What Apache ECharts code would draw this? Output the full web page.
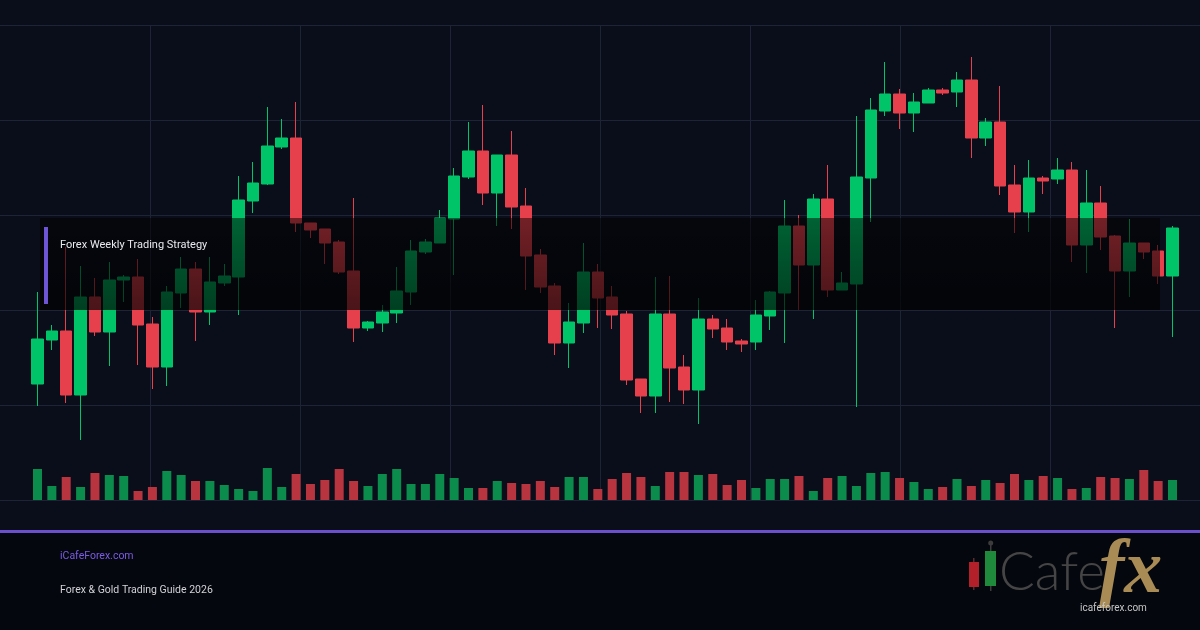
<!DOCTYPE html>
<html>
<head>
<meta charset="utf-8">
<title>Forex Weekly Trading Strategy</title>
<script src="https://cdn.jsdelivr.net/npm/echarts@6.0.0/dist/echarts.min.js"></script>
<style>
  html, body { margin: 0; padding: 0; background: #0a0e1a; }
  #chart { width: 1200px; height: 630px; }
</style>
</head>
<body>
<div id="chart"></div>
<script>
// weekly candles
const weeks = [
  'W01','W02','W03','W04','W05','W06','W07','W08','W09','W10',
  'W11','W12','W13','W14','W15','W16','W17','W18','W19','W20',
  'W21','W22','W23','W24','W25','W26','W27','W28','W29','W30',
  'W31','W32','W33','W34','W35','W36','W37','W38','W39','W40',
  'W41','W42','W43','W44','W45','W46','W47','W48','W49','W50',
  'W51','W52','W53','W54','W55','W56','W57','W58','W59','W60',
  'W61','W62','W63','W64','W65','W66','W67','W68','W69','W70',
  'W71','W72','W73','W74','W75','W76','W77','W78','W79','W80'
]
const opens = [
  2232, 2320, 2338, 2210, 2406, 2336, 2440, 2446, 2352, 2266,
  2414, 2462, 2376, 2434, 2446, 2598, 2632, 2706, 2724, 2554,
  2542, 2516, 2458, 2344, 2354, 2374, 2416, 2496, 2514, 2562,
  2646, 2698, 2614, 2690, 2588, 2490, 2428, 2314, 2354, 2456,
  2406, 2372, 2242, 2208, 2372, 2266, 2220, 2362, 2344, 2318,
  2316, 2368, 2414, 2548, 2470, 2602, 2420, 2432, 2644, 2778,
  2812, 2774, 2794, 2820, 2816, 2840, 2724, 2756, 2630, 2576,
  2644, 2642, 2660, 2510, 2594, 2528, 2458, 2514, 2498, 2448
]
const closes = [
  2322, 2338, 2210, 2406, 2336, 2440, 2446, 2350, 2266, 2416,
  2462, 2376, 2436, 2448, 2600, 2634, 2708, 2724, 2554, 2540,
  2514, 2456, 2344, 2356, 2376, 2418, 2498, 2516, 2564, 2648,
  2698, 2614, 2690, 2586, 2488, 2426, 2314, 2356, 2456, 2404,
  2370, 2240, 2208, 2372, 2264, 2220, 2362, 2342, 2316, 2312,
  2370, 2416, 2548, 2470, 2602, 2420, 2434, 2646, 2780, 2812,
  2774, 2796, 2820, 2814, 2840, 2724, 2756, 2628, 2576, 2644,
  2638, 2660, 2510, 2594, 2526, 2458, 2514, 2496, 2448, 2544
]
const lows = [
  2188, 2300, 2194, 2120, 2328, 2268, 2396, 2270, 2222, 2228,
  2384, 2318, 2350, 2428, 2370, 2574, 2630, 2702, 2536, 2524,
  2472, 2452, 2316, 2338, 2336, 2354, 2390, 2492, 2514, 2450,
  2642, 2590, 2548, 2542, 2420, 2414, 2290, 2264, 2334, 2344,
  2342, 2230, 2174, 2174, 2196, 2192, 2152, 2324, 2300, 2296,
  2300, 2340, 2314, 2380, 2362, 2406, 2420, 2186, 2556, 2768,
  2742, 2736, 2794, 2810, 2786, 2684, 2708, 2610, 2534, 2536,
  2612, 2632, 2476, 2454, 2500, 2344, 2406, 2482, 2432, 2326
]
const highs = [
  2416, 2350, 2506, 2468, 2444, 2476, 2450, 2482, 2366, 2428,
  2486, 2476, 2486, 2472, 2648, 2676, 2786, 2762, 2796, 2554,
  2542, 2520, 2604, 2358, 2390, 2466, 2520, 2522, 2580, 2664,
  2756, 2790, 2690, 2738, 2624, 2502, 2434, 2394, 2514, 2472,
  2428, 2378, 2242, 2446, 2448, 2290, 2404, 2370, 2362, 2322,
  2400, 2418, 2600, 2570, 2612, 2670, 2456, 2768, 2804, 2876,
  2822, 2814, 2824, 2824, 2856, 2886, 2764, 2828, 2670, 2680,
  2648, 2684, 2676, 2660, 2628, 2530, 2562, 2514, 2510, 2548
]
const volumes = [
  31, 14, 23, 13, 27, 25, 24, 9, 13, 29,
  25, 19, 19, 15, 11, 9, 32, 13, 26, 16,
  20, 31, 19, 14, 26, 31, 16, 16, 26, 22,
  12, 12, 19, 17, 16, 19, 13, 23, 23, 11,
  21, 27, 23, 14, 28, 28, 25, 26, 15, 20,
  12, 21, 21, 24, 9, 22, 24, 14, 27, 28,
  22, 18, 11, 13, 21, 14, 20, 17, 26, 20,
  24, 22, 11, 12, 23, 22, 21, 30, 19, 20
]

const UP = '#00c468'
const DOWN = '#e5404c'

const candles = opens.map((o, i) => [o, closes[i], lows[i], highs[i]])

const chart = echarts.init(document.getElementById('chart'))

const hidden = {
  axisLine: { show: false },
  axisTick: { show: false },
  axisLabel: { show: false }
}

const option = {
  backgroundColor: '#0a0e1a',
  animation: false,
  grid: [
    // background grid lines
    { left: 0, right: 0, top: 25, bottom: 130 },
    // candles
    { left: 30.3, right: 20.3, top: 25, bottom: 130 },
    // volume
    { left: 30.3, right: 20.3, top: 400, bottom: 130 }
  ],
  xAxis: [
    {
      gridIndex: 0, type: 'value', min: 0, max: 8, interval: 1, ...hidden,
      splitLine: {
        show: true, showMinLine: false, showMaxLine: false,
        lineStyle: { color: '#1e2436', width: 1 }
      }
    },
    { gridIndex: 1, type: 'category', data: weeks, boundaryGap: true, show: false },
    { gridIndex: 2, type: 'category', data: weeks, boundaryGap: true, show: false }
  ],
  yAxis: [
    {
      gridIndex: 0, type: 'value', min: 0, max: 5, interval: 1, ...hidden,
      splitLine: { show: true, lineStyle: { color: '#1e2436', width: 1 } }
    },
    { gridIndex: 1, type: 'value', min: 2000, max: 2950, show: false, splitLine: { show: false } },
    { gridIndex: 2, type: 'value', min: 0, max: 100, show: false, splitLine: { show: false } }
  ],
  series: [
    {
      name: 'Price',
      type: 'candlestick',
      xAxisIndex: 1,
      yAxisIndex: 1,
      data: candles,
      barWidth: 12,
      itemStyle: {
        color: UP,
        color0: DOWN,
        borderColor: UP,
        borderColor0: DOWN,
        borderWidth: 1
      }
    },
    {
      name: 'Volume',
      type: 'bar',
      xAxisIndex: 2,
      yAxisIndex: 2,
      barWidth: 9,
      data: volumes.map((v, i) => ({
        value: v,
        itemStyle: { color: closes[i] >= opens[i] ? '#0c8c4c' : '#b8343f' }
      }))
    }
  ],
  graphic: [
    // strategy band over the chart
    {
      type: 'rect', z: 100,
      shape: { x: 40, y: 218, width: 1120, height: 92 },
      style: {
        fill: new echarts.graphic.LinearGradient(0, 0, 0, 1, [
          { offset: 0, color: 'rgba(0,0,0,0.5)' },
          { offset: 1, color: 'rgba(0,0,0,0.68)' }
        ])
      }
    },
    {
      type: 'rect', z: 101,
      shape: { x: 44, y: 227, width: 4, height: 77 },
      style: { fill: '#6e55d6' }
    },
    {
      type: 'text', z: 101, x: 60, y: 245,
      style: {
        text: 'Forex Weekly Trading Strategy',
        fill: '#e8e8ee',
        font: '11px Roboto',
        verticalAlign: 'middle'
      }
    },
    // footer
    {
      type: 'rect', z: 50,
      shape: { x: 0, y: 533, width: 1200, height: 97 },
      style: { fill: '#05070e' }
    },
    {
      type: 'rect', z: 51,
      shape: { x: 0, y: 530, width: 1200, height: 3 },
      style: { fill: '#6a50cd' }
    },
    {
      type: 'text', z: 51, x: 60, y: 556,
      style: { text: 'iCafeForex.com', fill: '#7a5ce4', font: '10.5px Roboto', verticalAlign: 'middle' }
    },
    {
      type: 'text', z: 51, x: 60, y: 590,
      style: { text: 'Forex & Gold Trading Guide 2026', fill: '#d2d2d8', font: '10.5px Roboto', verticalAlign: 'middle' }
    },
    // logo
    {
      type: 'rect', z: 51,
      shape: { x: 973, y: 558, width: 1.5, height: 32 },
      style: { fill: '#5a2a2c' }
    },
    {
      type: 'rect', z: 52,
      shape: { x: 969, y: 562, width: 10, height: 25 },
      style: { fill: '#b3202a' }
    },
    {
      type: 'rect', z: 51,
      shape: { x: 990, y: 544, width: 1.5, height: 47 },
      style: { fill: '#3c3c3c' }
    },
    {
      type: 'circle', z: 51,
      shape: { cx: 990.7, cy: 543, r: 2.5 },
      style: { fill: '#3c3c3c' }
    },
    {
      type: 'rect', z: 52,
      shape: { x: 985, y: 551, width: 11, height: 35 },
      style: { fill: '#1f8a3c' }
    },
    {
      type: 'text', z: 51, x: 999, y: 573,
      style: { text: 'Cafe', fill: '#454545', font: '300 53px Lato', verticalAlign: 'middle' }
    },
    {
      type: 'text', z: 52, x: 1099, y: 572,
      style: { text: 'fx', fill: '#a98c55', font: 'italic bold 76px "Liberation Serif"', verticalAlign: 'middle' }
    },
    {
      type: 'text', z: 53, x: 1080, y: 608,
      style: { text: 'icafeforex.com', fill: '#c6c6c6', font: '10px Roboto', verticalAlign: 'middle' }
    }
  ]
}

chart.setOption(option)
</script>
</body>
</html>
